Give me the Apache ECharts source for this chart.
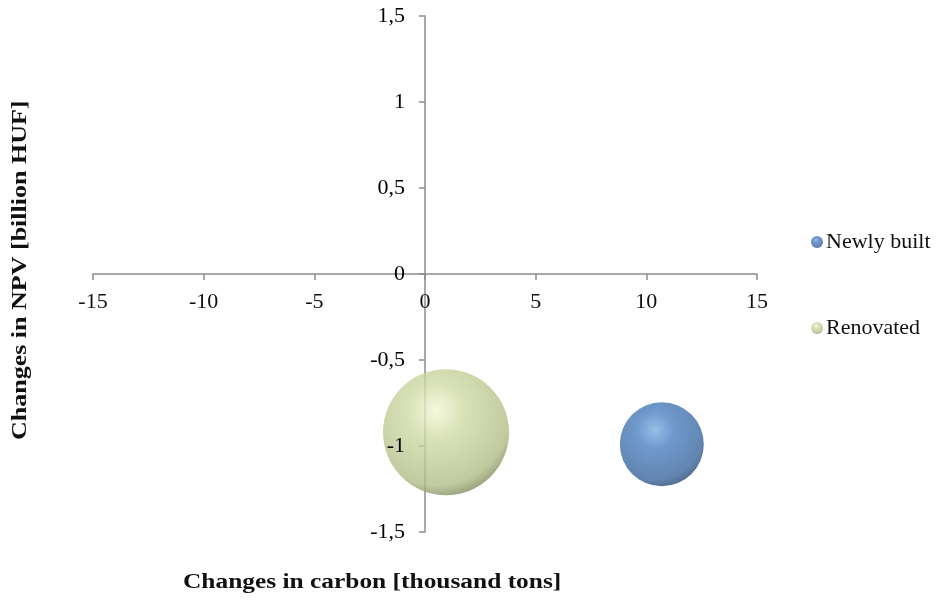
<!DOCTYPE html>
<html>
<head>
<meta charset="utf-8">
<script src="https://cdn.jsdelivr.net/npm/echarts@6/dist/echarts.min.js"></script>
<style>
  html, body { margin: 0; padding: 0; background: #fff; }
  #chart { width: 944px; height: 603px; }
</style>
</head>
<body>
<div id="chart"></div>
<script>
// Bubble data: [carbon change (thousand tons), NPV change (billion HUF), bubble size]
const seriesNames = ['Newly built', 'Renovated'];
const newlyBuilt = [[10.7, -0.99, 4]];
const renovated = [[0.95, -0.92, 9]];
const xTicks = [-15, -10, -5, 0, 5, 10, 15];
const yTicks = [-1.5, -1, -0.5, 0, 0.5, 1, 1.5];
const xTitle = 'Changes in carbon [thousand tons]';
const yTitle = 'Changes in NPV [billion HUF]';

const FONT = '"Liberation Serif", "Times New Roman", serif';
const GRID = { left: 93, right: 187, top: 16, bottom: 71 };
const AXIS_GRAY = '#8c8c8c';

function sphere(light, mid, dark, edge) {
  return {
    type: 'radial', x: 0.42, y: 0.33, r: 0.74,
    colorStops: [
      { offset: 0, color: light },
      { offset: 0.3, color: mid },
      { offset: 0.8, color: dark },
      { offset: 1, color: edge }
    ]
  };
}

const bubbleSize = d => 42 * Math.sqrt(d[2]);

const chart = echarts.init(document.getElementById('chart'));

// The axes cross at (0, 0): shift each axis from the grid edge to the zero line.
const plotW = 944 - GRID.left - GRID.right;
const plotH = 603 - GRID.top - GRID.bottom;
const xMin = xTicks[0], xMax = xTicks[xTicks.length - 1];
const yMin = yTicks[0], yMax = yTicks[yTicks.length - 1];
const xAxisShift = -plotH * (0 - yMin) / (yMax - yMin);
const yAxisShift = -plotW * (0 - xMin) / (xMax - xMin);

const yLabel = {
  fontFamily: FONT, fontSize: 22, color: '#000', margin: 20,
  formatter: v => String(v).replace('.', ',')
};

chart.setOption({
  backgroundColor: '#fff',
  animation: false,
  grid: GRID,
  legend: {
    orient: 'vertical',
    left: 806,
    top: 226,
    itemGap: 64,
    itemWidth: 12,
    itemHeight: 12,
    icon: 'circle',
    data: seriesNames,
    textStyle: { fontFamily: FONT, fontSize: 22, color: '#111', lineHeight: 22, padding: [0, 0, 0, -2] }
  },
  xAxis: {
    type: 'value',
    min: xMin, max: xMax, interval: 5,
    offset: xAxisShift,
    axisLine: { onZero: false, lineStyle: { color: AXIS_GRAY, width: 1.5 } },
    axisTick: { show: true, inside: false, length: 6, lineStyle: { color: AXIS_GRAY, width: 1.5 } },
    axisLabel: { fontFamily: FONT, fontSize: 22, color: '#111', margin: 17 },
    splitLine: { show: false }
  },
  yAxis: [
    {
      // line and ticks sit beneath the bubbles
      type: 'value',
      min: yMin, max: yMax, interval: 0.5,
      offset: yAxisShift,
      axisLine: { onZero: false, lineStyle: { color: AXIS_GRAY, width: 1.5 } },
      axisTick: { show: true, inside: false, length: 6, lineStyle: { color: AXIS_GRAY, width: 1.5 } },
      axisLabel: Object.assign({}, yLabel, { show: false }),
      splitLine: { show: false },
      z: 0
    },
    {
      // tick labels are printed over the bubbles
      type: 'value',
      position: 'left',
      min: yMin, max: yMax, interval: 0.5,
      offset: yAxisShift,
      axisLine: { show: false, onZero: false },
      axisTick: { show: false },
      axisLabel: yLabel,
      splitLine: { show: false },
      z: 20
    }
  ],
  series: [
    {
      name: seriesNames[0],
      type: 'scatter',
      data: newlyBuilt,
      symbolSize: bubbleSize,
      itemStyle: { color: sphere('#7eaee2', '#4b7fbf', '#3a669d', '#1f3a60') },
      z: 2
    },
    {
      name: seriesNames[1],
      type: 'scatter',
      data: renovated,
      symbolSize: bubbleSize,
      itemStyle: { color: sphere('#f1f8d4', '#d0daa5', '#b2bd86', '#6a734e') },
      z: 2
    }
  ],
  graphic: [
    {
      type: 'text', x: 183, y: 573, scaleX: 1.27,
      style: { text: xTitle, font: 'bold 20px ' + FONT, fill: '#111' }
    },
    {
      type: 'text', rotation: Math.PI / 2, x: 11, y: 440, scaleX: 1.3,
      style: { text: yTitle, font: 'bold 20px ' + FONT, fill: '#111' }
    }
  ]
});
</script>
</body>
</html>
